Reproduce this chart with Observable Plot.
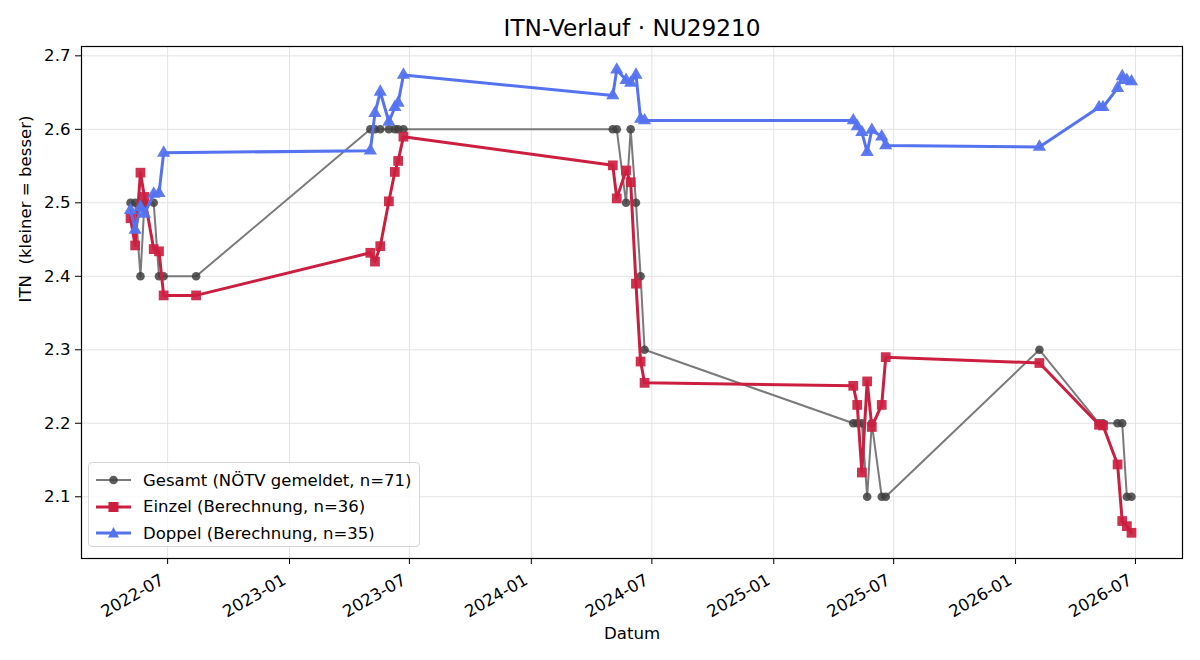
<!DOCTYPE html>
<html><head><meta charset="utf-8">
<script src="https://cdn.jsdelivr.net/npm/d3@7"></script>
<script src="https://cdn.jsdelivr.net/npm/@observablehq/plot@0.6"></script>
<style>
body{margin:0;background:#fff;font-family:"DejaVu Sans",sans-serif}
#wrap{position:relative;width:1200px;height:660px}
svg text{white-space:pre}
#legend{position:absolute;left:88px;top:462px;width:332px;height:85px;box-sizing:border-box;border:1px solid #d6d6d6;border-radius:4px;background:rgba(255,255,255,0.8);font-family:"DejaVu Sans",sans-serif}
.row{position:absolute;left:6px;height:26px;display:flex;align-items:center;font-size:16.5px;color:#000;white-space:pre}
.row svg{margin-right:11px}
</style></head>
<body><div id="wrap"></div>
<script>
// ---- data ----
const datum = ["2022-05-06","2022-05-13","2022-05-21","2022-05-27","2022-06-10","2022-06-18","2022-06-25","2022-08-13",
  "2023-05-03","2023-05-10","2023-05-18","2023-05-31","2023-06-09","2023-06-14","2023-06-22",
  "2024-05-03","2024-05-09","2024-05-23","2024-05-30","2024-06-07","2024-06-14","2024-06-20",
  "2025-05-01","2025-05-07","2025-05-14","2025-05-22","2025-05-29","2025-06-13","2025-06-19",
  "2026-02-06","2026-05-07","2026-05-13","2026-06-04","2026-06-11","2026-06-18","2026-06-25"];
const gesamt = [2.5,2.5,2.4,2.5,2.5,2.4,2.4,2.4,
  2.6,2.6,2.6,2.6,2.6,2.6,2.6,
  2.6,2.6,2.5,2.6,2.5,2.4,2.3,
  2.2,2.2,2.2,2.1,2.2,2.1,2.1,
  2.3,2.2,2.2,2.2,2.2,2.1,2.1];
const einzel = [2.479,2.442,2.541,2.508,2.437,2.434,2.374,2.374,
  2.432,2.420,2.441,2.502,2.542,2.557,2.590,
  2.551,2.506,2.544,2.528,2.390,2.284,2.255,
  2.251,2.225,2.133,2.257,2.195,2.225,2.290,
  2.282,2.198,2.197,2.144,2.067,2.060,2.051];
const doppel = [2.490,2.463,2.494,2.485,2.512,2.513,2.568,null,
  2.571,2.622,2.651,2.610,2.630,2.636,2.674,
  2.646,2.681,2.667,2.663,2.674,2.614,2.612,
  2.612,2.604,2.596,2.569,2.599,2.590,2.578,
  2.576,2.630,2.630,2.656,2.672,2.667,2.665];
const yTicks = [2.1,2.2,2.3,2.4,2.5,2.6,2.7];
const xTickLabels = ["2022-07","2023-01","2023-07","2024-01","2024-07","2025-01","2025-07","2026-01","2026-07"];
const titleText = "ITN-Verlauf · NU29210";
const xLabel = "Datum";
const yLabel = "ITN  (kleiner = besser)";
const legendLabels = ["Gesamt (NÖTV gemeldet, n=71)","Einzel (Berechnung, n=36)","Doppel (Berechnung, n=35)"];
const colors = {g:"#7a7a7a", gDot:"#404040", e:"#cc1f40", d:"#5573ef"};

// ---- build ----
const parse = d3.utcParse("%Y-%m-%d");
const parseM = d3.utcParse("%Y-%m");
const rows = datum.map((d,i)=>({date:parse(d), g:gesamt[i], e:einzel[i], dp:doppel[i]}));
const gRows = rows;
const eRows = rows.filter(r=>r.e!=null);
const dRows = rows.filter(r=>r.dp!=null);
const xTicks = xTickLabels.map(s=>parseM(s));
const fmtX = d3.utcFormat("%Y-%m");
const FS = 16.6;

const chart = Plot.plot({
  width:1200, height:660,
  marginLeft:81, marginRight:18, marginTop:46, marginBottom:102,
  style:{fontFamily:"DejaVu Sans, sans-serif", fontSize:FS+"px", color:"#000", background:"#fff"},
  x:{type:"utc", domain:[parse("2022-02-21"), parse("2026-09-10")]},
  y:{domain:[2.016, 2.7127]},
  marks:[
    Plot.gridX(xTicks,{stroke:"#e3e3e3", strokeOpacity:1, strokeWidth:1}),
    Plot.gridY(yTicks,{stroke:"#e3e3e3", strokeOpacity:1, strokeWidth:1}),
    Plot.axisY(yTicks,{tickSize:6, tickPadding:5, tickFormat:d=>d.toFixed(1), label:null, fontSize:FS}),
    Plot.axisX(xTicks,{tickSize:6, tickFormat:()=>"", label:null}),
    Plot.text(xTicks,{x:d=>d, text:d=>fmtX(d), frameAnchor:"bottom", lineAnchor:"middle", textAnchor:"end", rotate:-30, dx:-5, dy:20, fontSize:FS}),
    Plot.line(gRows,{x:"date", y:"g", stroke:colors.g, strokeWidth:2}),
    Plot.dot(gRows,{x:"date", y:"g", r:4.3, fill:colors.gDot, fillOpacity:0.85, stroke:null}),
    Plot.line(eRows,{x:"date", y:"e", stroke:colors.e, strokeWidth:3}),
    Plot.dot(eRows,{x:"date", y:"e", symbol:"square", r:5.5, fill:colors.e, fillOpacity:0.92, stroke:null}),
    Plot.line(dRows,{x:"date", y:"dp", stroke:colors.d, strokeWidth:3}),
    Plot.dot(dRows,{x:"date", y:"dp", symbol:"triangle", r:4.9, fill:colors.d, fillOpacity:0.95, stroke:null}),
    Plot.frame({stroke:"#000", strokeWidth:1.2}),
    Plot.text([titleText],{frameAnchor:"top", lineAnchor:"middle", dy:-18, fontSize:23.2}),
    Plot.text([xLabel],{frameAnchor:"bottom", lineAnchor:"middle", dy:75, fontSize:FS}),
    Plot.text([yLabel],{frameAnchor:"left", lineAnchor:"middle", dx:-56, rotate:-90, fontSize:FS})
  ]
});
const wrap = document.getElementById("wrap");
wrap.appendChild(chart);

// legend
const legend = document.createElement("div");
legend.id = "legend";
const sw = [
  `<line x1="1" y1="10" x2="36" y2="10" stroke="${colors.g}" stroke-width="2"/><circle cx="18.5" cy="10" r="4.3" fill="${colors.gDot}" fill-opacity="0.85"/>`,
  `<line x1="1" y1="10" x2="36" y2="10" stroke="${colors.e}" stroke-width="3"/><rect x="13.5" y="5" width="10" height="10" fill="${colors.e}"/>`,
  `<line x1="1" y1="10" x2="36" y2="10" stroke="${colors.d}" stroke-width="3"/><path d="M18.5,4 L24,14.5 L13,14.5 Z" fill="${colors.d}"/>`
];
legendLabels.forEach((t,i)=>{
  const r = document.createElement("div");
  r.className = "row";
  r.style.top = (4 + i*26.5) + "px";
  r.innerHTML = `<svg width="37" height="20">${sw[i]}</svg><span>${t}</span>`;
  legend.appendChild(r);
});
wrap.appendChild(legend);
</script>
</body></html>
